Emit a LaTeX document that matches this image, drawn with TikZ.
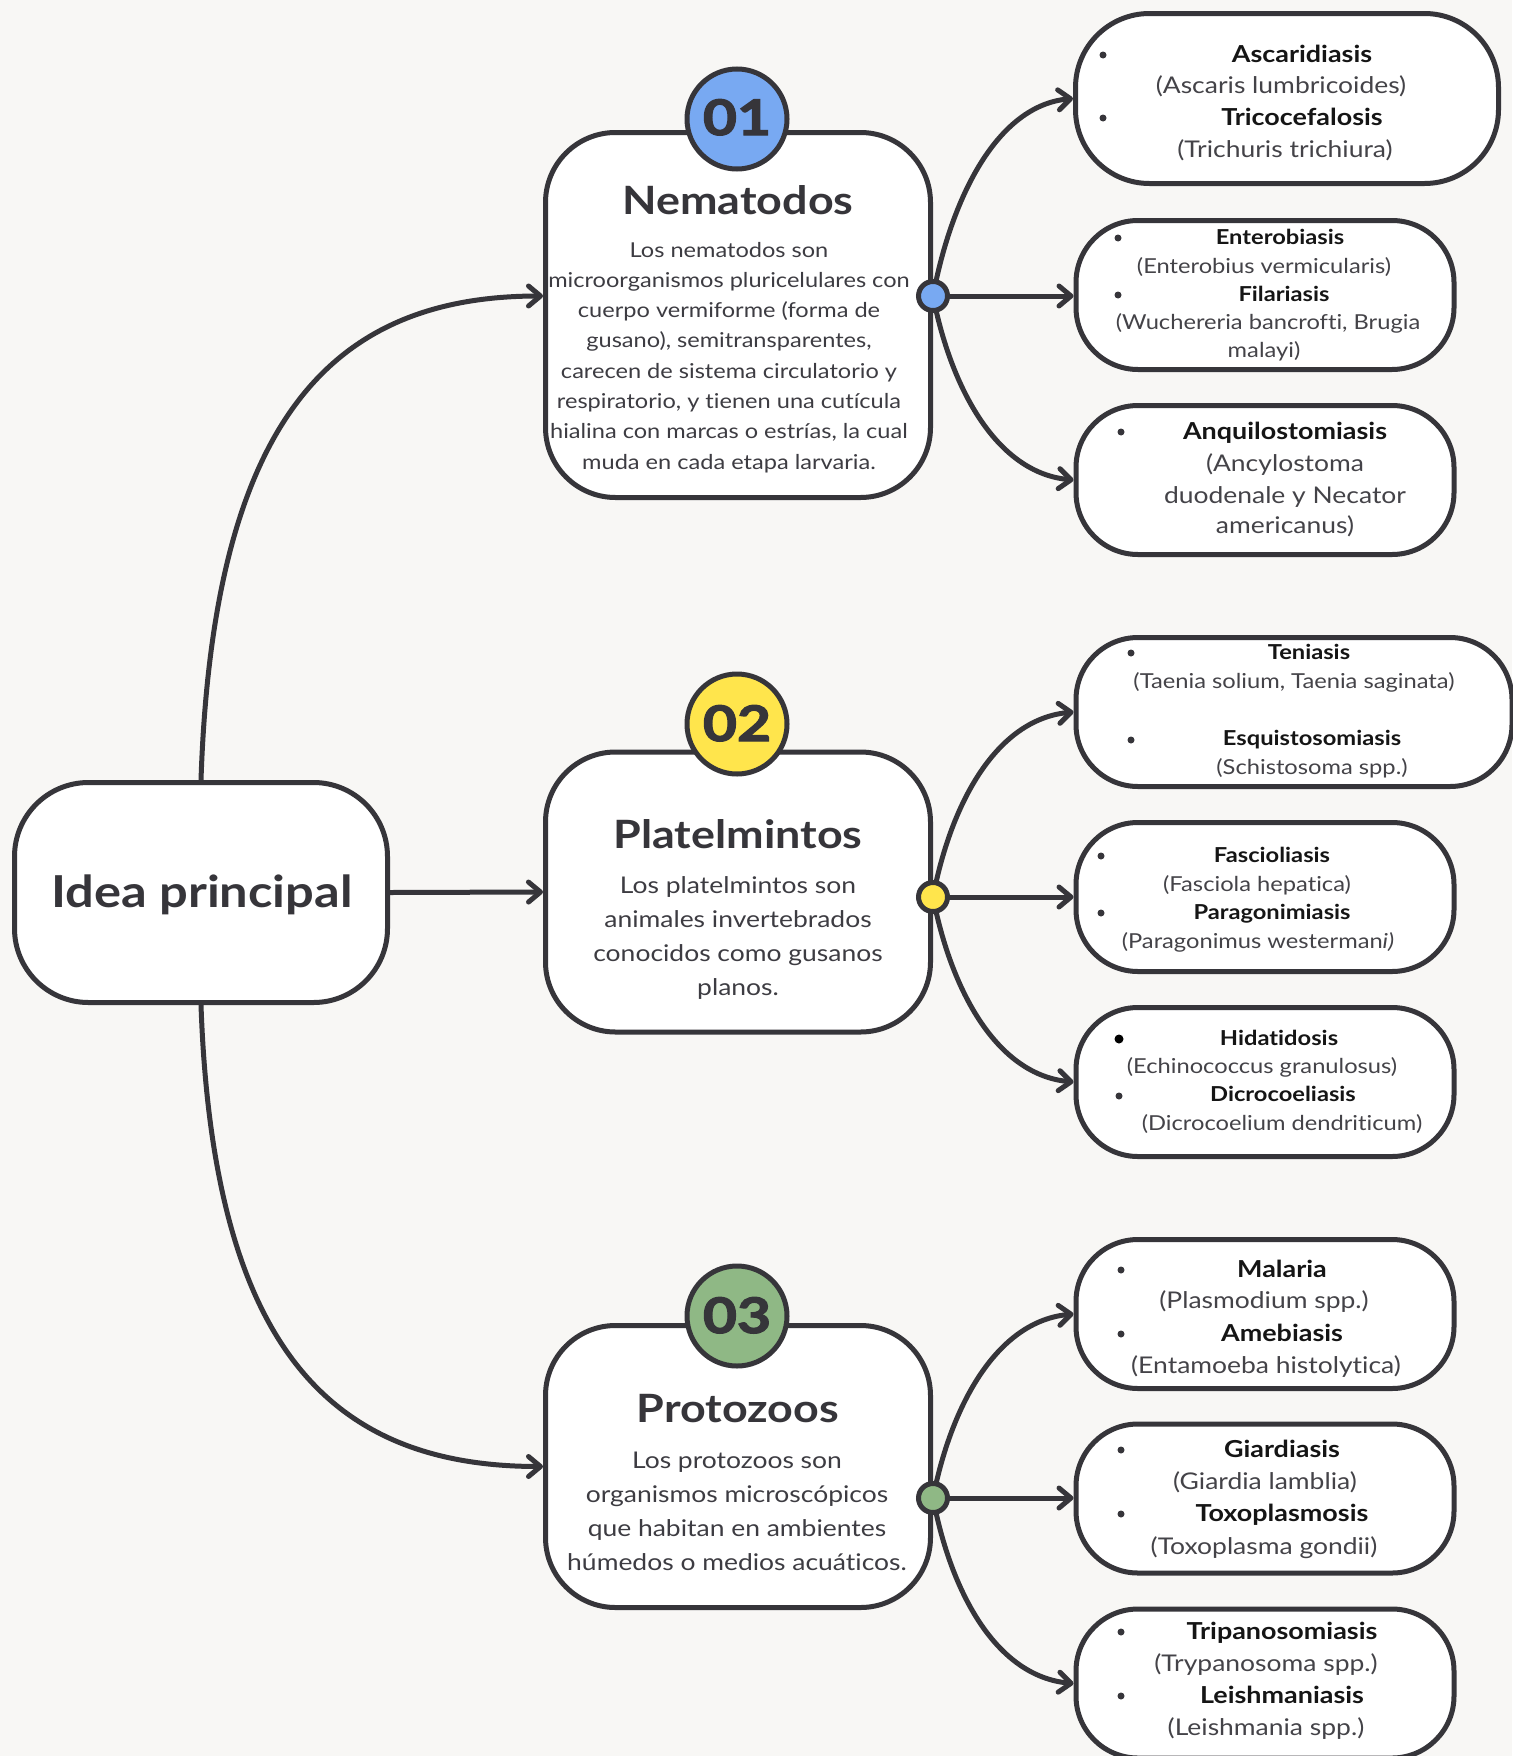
\documentclass[tikz,border=0pt]{standalone}
\usepackage{fontspec}
\setmainfont{Lato}[FakeStretch=1.15, Ligatures={NoCommon}]
\newfontfamily\numfont{Lato}[FakeStretch=1.2, BoldFeatures={FakeBold=2.5}]
\usetikzlibrary{arrows.meta,calc}
\definecolor{ink}{HTML}{36353A}
\definecolor{bgc}{HTML}{F8F7F5}
\definecolor{cblue}{HTML}{78A9F2}
\definecolor{cyellow}{HTML}{FFE54C}
\definecolor{cgreen}{HTML}{8FB885}
\definecolor{bodyc}{HTML}{3D3C42}
\definecolor{scic}{HTML}{444348}
\definecolor{itemc}{HTML}{151515}
\begin{document}
\begin{tikzpicture}[x=0.5pt,y=-0.5pt,
  box/.style={draw=ink, line width=2.5pt, fill=white, inner sep=0pt, rounded corners=35pt},
  rbox/.style={box, rounded corners=31pt},
  conn/.style={draw=ink, line width=2.5pt, line cap=round, -{Straight Barb[round,length=6pt,width=10pt]}},
  numc/.style={circle, draw=ink, line width=2.5pt, minimum size=50pt, inner sep=0pt},
  dotc/.style={circle, draw=ink, line width=2.5pt, minimum size=14.5pt, inner sep=0pt},
  bul/.style={circle, fill=ink, minimum size=3.5pt, inner sep=0pt},
  numt/.style={anchor=base, inner sep=0pt, text=ink, font=\numfont\bfseries\fontsize{24.5}{25}\selectfont},
  ttl/.style={anchor=base, inner sep=0pt, text=ink, font=\bfseries\fontsize{19.5}{20}\selectfont},
  nb/.style={anchor=base, inner sep=0pt, text=bodyc, font=\fontsize{10.25}{12}\selectfont},
  pb/.style={anchor=base, inner sep=0pt, text=bodyc, font=\fontsize{11.5}{13}\selectfont},
  itL/.style={anchor=base, inner sep=0pt, text=itemc, font=\bfseries\fontsize{11.7}{13}\selectfont},
  scL/.style={anchor=base, inner sep=0pt, text=scic, font=\fontsize{11.5}{13}\selectfont},
  itS/.style={anchor=base, inner sep=0pt, text=itemc, font=\bfseries\fontsize{10.3}{11}\selectfont},
  scS/.style={anchor=base, inner sep=0pt, text=scic, font=\fontsize{10.3}{11}\selectfont}]
\useasboundingbox (0,0) rectangle (1512,1756);
\fill[bgc] (0,0) rectangle (1512,1756);

% main boxes
\node[box, rounded corners=37pt, minimum width=186.5pt, minimum height=110pt] (idea) at (201,892.5) {};
\node[box, minimum width=192.5pt, minimum height=182.5pt] (nema) at (738,315) {};
\node[box, minimum width=192.5pt, minimum height=140pt] (plat) at (738,892) {};
\node[box, minimum width=192.5pt, minimum height=141pt] (proto) at (738,1466.5) {};

% right boxes
\node[rbox, rounded corners=37pt, minimum width=211.5pt, minimum height=85pt] (r1) at (1287,98.5) {};
\node[rbox, minimum width=189pt, minimum height=74.5pt] (r2) at (1265,295) {};
\node[rbox, minimum width=189pt, minimum height=74.5pt] (r3) at (1265,480) {};
\node[rbox, minimum width=218pt, minimum height=74.5pt] (r4) at (1294,712) {};
\node[rbox, minimum width=189pt, minimum height=74.5pt] (r5) at (1265,897) {};
\node[rbox, minimum width=189pt, minimum height=74.5pt] (r6) at (1265,1082) {};
\node[rbox, minimum width=189pt, minimum height=74.5pt] (r7) at (1265,1314) {};
\node[rbox, minimum width=189pt, minimum height=74.5pt] (r8) at (1265,1498.5) {};
\node[rbox, minimum width=189pt, minimum height=74.5pt] (r9) at (1265,1683.5) {};

% connector hubs
\coordinate (d1) at (933,296);
\coordinate (d2) at (933,897);
\coordinate (d3) at (933,1498);

% left connectors
\draw[conn] (idea.north) .. controls ($(idea.north)+(12,-358)$) and ($(nema.west |- d1)+(-213,0)$) .. (nema.west |- d1);
\draw[conn] (idea.east) -- (plat.west);
\draw[conn] (idea.south) .. controls ($(idea.south)+(12,342)$) and ($(proto.west)+(-213,0)$) .. (proto.west);

% right connectors
\draw[conn] (d1) .. controls ($(d1)+(18,-96)$) and ($(r1.west)+(-77,7)$) .. (r1.west);
\draw[conn] (d1) -- (d1 -| r2.west);
\draw[conn] (d1) .. controls ($(d1)+(18,92)$) and ($(r3.west)+(-77,-7)$) .. (r3.west);
\draw[conn] (d2) .. controls ($(d2)+(18,-94)$) and ($(r4.west)+(-77,7)$) .. (r4.west);
\draw[conn] (d2) -- (d2 -| r5.west);
\draw[conn] (d2) .. controls ($(d2)+(18,93)$) and ($(r6.west)+(-77,-7)$) .. (r6.west);
\draw[conn] (d3) .. controls ($(d3)+(18,-92)$) and ($(r7.west)+(-77,7)$) .. (r7.west);
\draw[conn] (d3) -- (d3 -| r8.west);
\draw[conn] (d3) .. controls ($(d3)+(18,95)$) and ($(r9.west)+(-77,-7)$) .. (r9.west);

% dots
\node[dotc, fill=cblue] (dot1) at (d1) {};
\node[dotc, fill=cyellow] (dot2) at (d2) {};
\node[dotc, fill=cgreen] (dot3) at (d3) {};

% number circles
\node[numc, fill=cblue] (c1) at (737,119) {};
\node[numc, fill=cyellow] (c2) at (737,724) {};
\node[numc, fill=cgreen] (c3) at (737,1316) {};
\node[numt] (n1) at (737,135) {01};
\node[numt] (n2) at (737,741) {02};
\node[numt] (n3) at (737,1333) {03};

% main texts
\node[anchor=base, inner sep=0pt, text=ink, font=\bfseries\fontsize{22}{24}\selectfont] (ideat) at (202,907) {Idea principal};
\node[ttl] (t1) at (738,214) {Nematodos};
\node[ttl] (t2) at (738,848) {Platelmintos};
\node[ttl] (t3) at (738,1422) {Protozoos};

\foreach \t [count=\i] in {{Los nematodos son},{microorganismos pluricelulares con},{cuerpo vermiforme (forma de},{gusano), semitransparentes,},{carecen de sistema circulatorio y},{respiratorio, y tienen una cutícula},{hialina con marcas o estrías, la cual},{muda en cada etapa larvaria.}}
  \node[nb] (nl\i) at (729,{257+30.3*(\i-1)}) {\t};
\foreach \t [count=\i] in {{Los platelmintos son},{animales invertebrados},{conocidos como gusanos},{planos.}}
  \node[pb] (pl\i) at (738,{893+34*(\i-1)}) {\t};
\foreach \t [count=\i] in {{Los protozoos son},{organismos microscópicos},{que habitan en ambientes},{húmedos o medios acuáticos.}}
  \node[pb] (ql\i) at (737,{1468+34*(\i-1)}) {\t};

% box 1
\node[bul] (b1a) at (1103,55) {};
\node[itL] (r1a) at (1302,62) {Ascaridiasis};
\node[scL] (r1b) at (1281,93) {(Ascaris lumbricoides)};
\node[bul] (b1b) at (1103,118) {};
\node[itL] (r1c) at (1302,125) {Tricocefalosis};
\node[scL] (r1d) at (1285,157) {(Trichuris trichiura)};
% box 2
\node[bul] (b2a) at (1118,238) {};
\node[itS] (r2a) at (1280,244) {Enterobiasis};
\node[scS] (r2b) at (1264,273) {(Enterobius vermicularis)};
\node[bul] (b2b) at (1118,295) {};
\node[itS] (r2c) at (1284,301) {Filariasis};
\node[scS] (r2d) at (1268,329) {(Wuchereria bancrofti, Brugia};
\node[scS] (r2e) at (1264,357) {malayi)};
% box 3
\node[bul] (b3a) at (1121,432) {};
\node[itL] (r3a) at (1285,439) {Anquilostomiasis};
\node[scL] (r3b) at (1285,471) {(Ancylostoma};
\node[scL] (r3c) at (1285,503) {duodenale y Necator};
\node[scL] (r3d) at (1285,533) {americanus)};
% box 4
\node[bul] (b4a) at (1131,653) {};
\node[itS] (r4a) at (1309,659) {Teniasis};
\node[scS] (r4b) at (1294,688) {(Taenia solium, Taenia saginata)};
\node[bul] (b4b) at (1131,740) {};
\node[itS] (r4c) at (1312,745) {Esquistosomiasis};
\node[scS] (r4d) at (1312,774) {(Schistosoma spp.)};
% box 5
\node[bul] (b5a) at (1101,856) {};
\node[itS] (r5a) at (1272,862) {Fascioliasis};
\node[scS] (r5b) at (1257,891) {(Fasciola hepatica)};
\node[bul] (b5b) at (1101,913) {};
\node[itS] (r5c) at (1272,919) {Paragonimiasis};
\node[scS] (r5d) at (1258,948) {(Paragonimus westerman\textit{i)}};
% box 6
\node[bul, fill=black, minimum size=4.5pt] (b6a) at (1119,1039) {};
\node[itS] (r6a) at (1279,1045) {Hidatidosis};
\node[scS] (r6b) at (1262,1073) {(Echinococcus granulosus)};
\node[bul] (b6b) at (1119,1096) {};
\node[itS] (r6c) at (1283,1101) {Dicrocoeliasis};
\node[scS] (r6d) at (1282,1130) {(Dicrocoelium dendriticum)};
% box 7
\node[bul] (b7a) at (1121,1270) {};
\node[itL] (r7a) at (1282,1277) {Malaria};
\node[scL] (r7b) at (1264,1308) {(Plasmodium spp.)};
\node[bul] (b7b) at (1121,1334) {};
\node[itL] (r7c) at (1282,1341) {Amebiasis};
\node[scL] (r7d) at (1266,1373) {(Entamoeba histolytica)};
% box 8
\node[bul] (b8a) at (1121,1450) {};
\node[itL] (r8a) at (1282,1457) {Giardiasis};
\node[scL] (r8b) at (1265,1489) {(Giardia lamblia)};
\node[bul] (b8b) at (1121,1514) {};
\node[itL] (r8c) at (1282,1521) {Toxoplasmosis};
\node[scL] (r8d) at (1264,1554) {(Toxoplasma gondii)};
% box 9
\node[bul] (b9a) at (1121,1632) {};
\node[itL] (r9a) at (1282,1639) {Tripanosomiasis};
\node[scL] (r9b) at (1266,1671) {(Trypanosoma spp.)};
\node[bul] (b9b) at (1121,1696) {};
\node[itL] (r9c) at (1282,1703) {Leishmaniasis};
\node[scL] (r9d) at (1266,1735) {(Leishmania spp.)};
\end{tikzpicture}
\end{document}
